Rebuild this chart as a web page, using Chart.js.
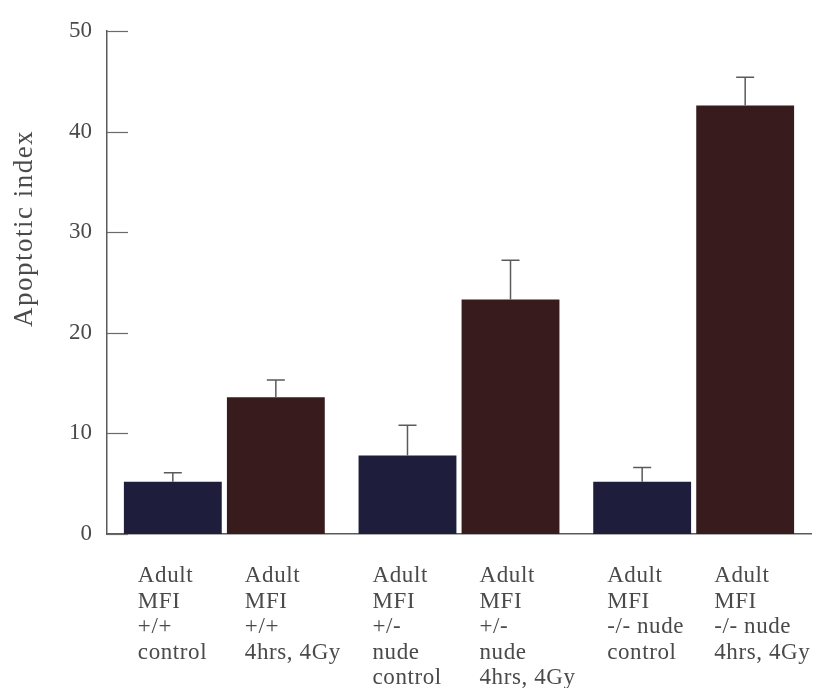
<!DOCTYPE html>
<html>
<head>
<meta charset="utf-8">
<script src="https://cdn.jsdelivr.net/npm/chart.js@4/dist/chart.umd.min.js"></script>
<style>
  html, body { margin: 0; padding: 0; background: #ffffff; }
  #wrap { width: 819px; height: 688px; }
</style>
</head>
<body>
<div id="wrap"><canvas id="chart" width="819" height="688"></canvas></div>
<script>
// Genotype groups along the x axis (each holds a control and an irradiated bar)
const groups = ['+/+', '+/-', '-/-'];

// Apoptotic index, untreated controls
const controlValues = [5.2, 7.8, 5.2];
const controlErrors = [0.9, 3.0, 1.4];

// Apoptotic index, 4 hrs after 4 Gy
const irradiatedValues = [13.6, 23.3, 42.6];
const irradiatedErrors = [1.7, 3.9, 2.8];

// Text printed under each bar, left to right
const barLabels = [
  ['Adult', 'MFI', '+/+', 'control'],
  ['Adult', 'MFI', '+/+', '4hrs, 4Gy'],
  ['Adult', 'MFI', '+/-', 'nude', 'control'],
  ['Adult', 'MFI', '+/-', 'nude', '4hrs, 4Gy'],
  ['Adult', 'MFI', '-/- nude', 'control'],
  ['Adult', 'MFI', '-/- nude', '4hrs, 4Gy']
];

const yTicks = [0, 10, 20, 30, 40, 50];
const yTitle = 'Apoptotic index';

const SERIF = '"Liberation Serif", "DejaVu Serif", serif';
const INK = '#4a4a4a';

// Upward-only error bars with a short cap
const errorBarPlugin = {
  id: 'errorBars',
  afterDatasetsDraw(chart) {
    const { ctx, scales: { y } } = chart;
    ctx.save();
    ctx.strokeStyle = '#5a5a5a';
    ctx.lineWidth = 1.5;
    chart.data.datasets.forEach((ds, di) => {
      const meta = chart.getDatasetMeta(di);
      meta.data.forEach((bar, i) => {
        const top = y.getPixelForValue(ds.data[i] + ds.errors[i]);
        ctx.beginPath();
        ctx.moveTo(bar.x, bar.y);
        ctx.lineTo(bar.x, top);
        ctx.moveTo(bar.x - 9, top);
        ctx.lineTo(bar.x + 9, top);
        ctx.stroke();
      });
    });
    ctx.restore();
  }
};

// Inward tick marks, rotated axis title and the stacked labels under every bar
const axisDecorPlugin = {
  id: 'axisDecor',
  afterDraw(chart) {
    const { ctx, chartArea, scales: { y } } = chart;
    ctx.save();
    ctx.strokeStyle = '#6a6a6a';
    ctx.lineWidth = 1.2;
    yTicks.forEach(v => {
      const py = Math.round(y.getPixelForValue(v)) + 0.5;
      ctx.beginPath();
      ctx.moveTo(chartArea.left, py);
      ctx.lineTo(chartArea.left + 21, py);
      ctx.stroke();
    });

    // y axis title
    ctx.fillStyle = INK;
    ctx.font = '27px ' + SERIF;
    ctx.letterSpacing = '1.5px';
    ctx.textAlign = 'center';
    ctx.textBaseline = 'middle';
    ctx.translate(25, (chartArea.top + chartArea.bottom) / 2 - 54);
    ctx.rotate(-Math.PI / 2);
    ctx.fillText(yTitle, 0, 0);
    ctx.restore();

    // labels under the bars
    ctx.save();
    ctx.fillStyle = INK;
    ctx.font = '23px ' + SERIF;
    ctx.letterSpacing = '0.6px';
    ctx.textAlign = 'left';
    ctx.textBaseline = 'middle';
    const nSets = chart.data.datasets.length;
    chart.data.labels.forEach((_, gi) => {
      for (let di = 0; di < nSets; di++) {
        const bar = chart.getDatasetMeta(di).data[gi];
        const lines = barLabels[gi * nSets + di];
        const x0 = bar.x - (di === 0 ? 35 : 31);
        lines.forEach((line, li) => {
          ctx.fillText(line, x0, chartArea.bottom + 42 + li * 25.5);
        });
      }
    });
    ctx.restore();
  }
};

new Chart(document.getElementById('chart'), {
  type: 'bar',
  data: {
    labels: groups,
    datasets: [
      {
        label: 'control',
        data: controlValues,
        errors: controlErrors,
        backgroundColor: '#1e1e3c',
        categoryPercentage: 0.878,
        barPercentage: 0.95
      },
      {
        label: '4hrs, 4Gy',
        data: irradiatedValues,
        errors: irradiatedErrors,
        backgroundColor: '#381b1d',
        categoryPercentage: 0.878,
        barPercentage: 0.95
      }
    ]
  },
  options: {
    responsive: false,
    animation: false,
    devicePixelRatio: 1,
    layout: { padding: { top: 31, right: 8, bottom: 0, left: 0 } },
    plugins: {
      legend: { display: false },
      tooltip: { enabled: false }
    },
    scales: {
      x: {
        grid: { display: false },
        ticks: { display: false },
        border: { display: true, color: '#5a5a5a', width: 1.5 },
        afterFit(scale) { scale.height = 154; }
      },
      y: {
        min: 0,
        max: 50,
        afterBuildTicks(scale) { scale.ticks = yTicks.map(v => ({ value: v })); },
        grid: { display: false, drawTicks: false },
        border: { display: true, color: '#5a5a5a', width: 1.5 },
        ticks: {
          padding: 15,
          color: INK,
          font: { family: SERIF, size: 23 }
        },
        afterFit(scale) { scale.width = 107; }
      }
    }
  },
  plugins: [errorBarPlugin, axisDecorPlugin]
});
</script>
</body>
</html>
